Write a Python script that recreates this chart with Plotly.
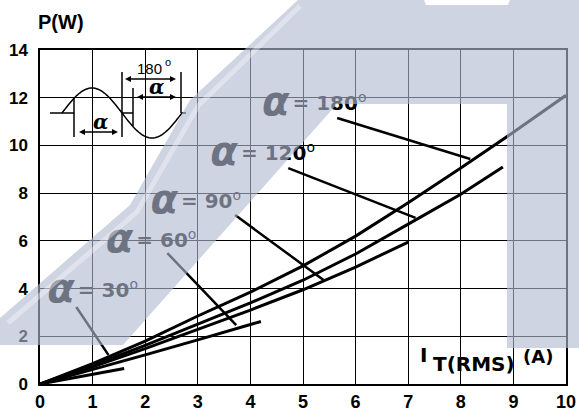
import numpy as np
import plotly.graph_objects as go

# ---------------- data ----------------
I_180 = [0, 1, 2, 3, 4, 5, 6, 7, 8, 9, 10]
P_180 = [0, 0.85, 1.8, 2.85, 3.85, 4.95, 6.2, 7.6, 9.05, 10.55, 12.1]
I_120 = [0, 1, 2, 3, 4, 5, 6, 7, 8, 8.8]
P_120 = [0, 0.78, 1.62, 2.5, 3.4, 4.35, 5.45, 6.7, 7.95, 9.1]
I_90 = [0, 1, 2, 3, 4, 5, 6, 7]
P_90 = [0, 0.72, 1.48, 2.28, 3.1, 3.95, 4.9, 5.95]
I_60 = [0, 1, 2, 3, 4, 4.2]
P_60 = [0, 0.6, 1.22, 1.85, 2.5, 2.62]
I_30 = [0, 0.5, 1, 1.6]
P_30 = [0, 0.2, 0.4, 0.65]

angles = ["180", "120", "90", "60", "30"]
leader_x0 = [5.65, 4.72, 3.71, 2.42, 0.69]
leader_y0 = [11.15, 9.05, 7.08, 5.49, 3.23]
leader_x1 = [8.18, 7.14, 5.39, 3.73, 1.30]
leader_y1 = [9.43, 6.96, 4.36, 2.47, 1.22]
label_x = [4.80, 3.82, 2.68, 1.83, 0.72]
label_y = [11.69, 9.60, 7.59, 5.95, 3.86]

x_ticks = list(range(0, 11))
y_ticks = list(range(0, 15, 2))

# ---------------- layout geometry ----------------
WIDTH, HEIGHT = 579, 415
L, R, T, B = 40, 13, 50, 31
PW, PH = WIDTH - L - R, HEIGHT - T - B


def pp(px, py):
    return (px - L) / PW, (HEIGHT - B - py) / PH


def path_from(points, close=True):
    s = ""
    for i, (px, py) in enumerate(points):
        x, y = pp(px, py)
        s += ("M" if i == 0 else "L") + f"{x:.5f},{y:.5f} "
    return s + ("Z" if close else "")


fig = go.Figure()

curves = [(I_180, P_180), (I_120, P_120), (I_90, P_90), (I_60, P_60), (I_30, P_30)]
for xs, ys in curves:
    fig.add_trace(go.Scatter(x=xs, y=ys, mode="lines",
                             line=dict(color="black", width=3),
                             hoverinfo="skip", showlegend=False))

lx, ly = [], []
for a, b, c, d in zip(leader_x0, leader_y0, leader_x1, leader_y1):
    lx += [a, c, None]
    ly += [b, d, None]
fig.add_trace(go.Scatter(x=lx, y=ly, mode="lines",
                         line=dict(color="black", width=2.5),
                         hoverinfo="skip", showlegend=False))

# alpha glyphs
fig.add_trace(go.Scatter(
    x=[v - 0.32 for v in label_x], y=label_y, mode="text",
    text=["α"] * len(angles), textposition="middle center",
    textfont=dict(family="DejaVu Sans", size=40, color="black",
                  weight="bold", style="italic"),
    hoverinfo="skip", showlegend=False))
# "= NNN°"
fig.add_trace(go.Scatter(
    x=label_x, y=label_y, mode="text",
    text=[f"= {a}<sup><span style='font-weight:normal'>o</span></sup>" for a in angles],
    textposition="middle right",
    textfont=dict(family="DejaVu Sans", size=20, color="black", weight="bold"),
    hoverinfo="skip", showlegend=False))

shapes = []
# white boxes behind labels (mask the grid)
boxes = [(258, 90, 375, 118), (205, 140, 318, 167), (145, 187, 243, 215),
         (98, 226, 203, 255), (41, 279, 143, 306), (415, 340, 562, 383)]
for x0, y0, x1, y1 in boxes:
    a0, b0 = pp(x0, y1)
    a1, b1 = pp(x1, y0)
    shapes.append(dict(type="rect", xref="paper", yref="paper", x0=a0, y0=b0,
                       x1=a1, y1=b1, fillcolor="white", line=dict(width=0),
                       layer="between"))

# inset sine diagram
ins_line = dict(color="black", width=1.5)
sx = np.linspace(62, 182, 81)
sy = 113 - 25 * np.sin((sx - 62) / 120 * 2 * np.pi)
shapes.append(dict(type="path", xref="paper", yref="paper",
                   path=path_from(list(zip(sx, sy)), close=False), line=ins_line))
segs = [((50, 113), (74, 113)), ((74, 97), (74, 137)), ((122, 72), (122, 137)),
        ((122, 113), (133, 113)), ((133, 88), (133, 126)), ((181, 72), (181, 113)),
        ((181, 113), (186, 113))]
for (x0, y0), (x1, y1) in segs:
    shapes.append(dict(type="path", xref="paper", yref="paper",
                       path=path_from([(x0, y0), (x1, y1)], close=False), line=ins_line))


def arrow(xa, xb, y):
    out = [dict(type="path", xref="paper", yref="paper",
                path=path_from([(xa + 2, y), (xb - 2, y)], close=False),
                line=dict(color="black", width=1.3))]
    out.append(dict(type="path", xref="paper", yref="paper",
                    path=path_from([(xa, y), (xa + 6, y - 3), (xa + 6, y + 3)]),
                    fillcolor="black", line=dict(width=0)))
    out.append(dict(type="path", xref="paper", yref="paper",
                    path=path_from([(xb, y), (xb - 6, y - 3), (xb - 6, y + 3)]),
                    fillcolor="black", line=dict(width=0)))
    return out


shapes += arrow(79, 118, 132) + arrow(125, 176, 79) + arrow(137, 176, 97)

# watermark overlay
wm = [(0, 318), (130, 205), (190, 100), (298, 0), (424, 0), (426, 5), (508, 5),
      (510, 0), (579, 0), (579, 348), (507, 348), (507, 104), (337, 104),
      (123, 345), (0, 345)]
shapes.append(dict(type="path", xref="paper", yref="paper", path=path_from(wm),
                   fillcolor="rgba(178,186,210,0.62)", line=dict(width=0),
                   layer="above"))
# glossy highlight inside the watermark band
shapes.append(dict(type="path", xref="paper", yref="paper",
                   path=path_from([(8, 323), (137, 212), (198, 106), (300, 6)], close=False),
                   line=dict(color="rgba(255,255,255,0.35)", width=5), layer="above"))

annotations = []


def ann(text, px, py, size, family="Liberation Sans", weight="bold",
        style="normal", xanchor="center"):
    x, y = pp(px, py)
    annotations.append(dict(text=text, x=x, y=y, xref="paper", yref="paper",
                            showarrow=False, xanchor=xanchor, yanchor="middle",
                            font=dict(family=family, size=size, color="black",
                                      weight=weight, style=style)))


ann("P(W)", 61, 22, 20)
ann("α", 100, 122, 20, family="DejaVu Serif", style="italic")
ann("α", 156, 87, 20, family="DejaVu Serif", style="italic")
ann("180", 149, 69, 15, weight="normal")
ann("o", 168, 62, 11, weight="normal")
ann("I", 423, 355, 20, family="DejaVu Sans")
ann("T(RMS)", 474, 364, 20, family="DejaVu Sans")
ann("(A)", 538, 356, 18, family="DejaVu Sans")

axis_common = dict(showgrid=True, gridcolor="black", gridwidth=1.3, zeroline=False,
                   showline=True, linecolor="black", linewidth=1.5, mirror=True,
                   ticks="", automargin=False, fixedrange=True)
fig.update_layout(
    width=WIDTH, height=HEIGHT,
    margin=dict(l=L, r=R, t=T, b=B, pad=0, autoexpand=False),
    paper_bgcolor="white", plot_bgcolor="white",
    shapes=shapes, annotations=annotations, showlegend=False,
    xaxis=dict(range=[0, 10], tickvals=x_ticks, ticktext=[str(v) for v in x_ticks],
               ticklabelstandoff=1,
               tickfont=dict(family="Liberation Sans", size=18, color="black",
                             weight="bold"), **axis_common),
    yaxis=dict(range=[0, 14], tickvals=y_ticks, ticktext=[str(v) for v in y_ticks],
               ticklabelstandoff=7,
               tickfont=dict(family="Liberation Sans", size=17, color="black",
                             weight="bold"), **axis_common),
)

fig.write_html("out.html", config={"displayModeBar": False},
               post_script="document.body.style.margin='0px';document.body.style.padding='0px';")
